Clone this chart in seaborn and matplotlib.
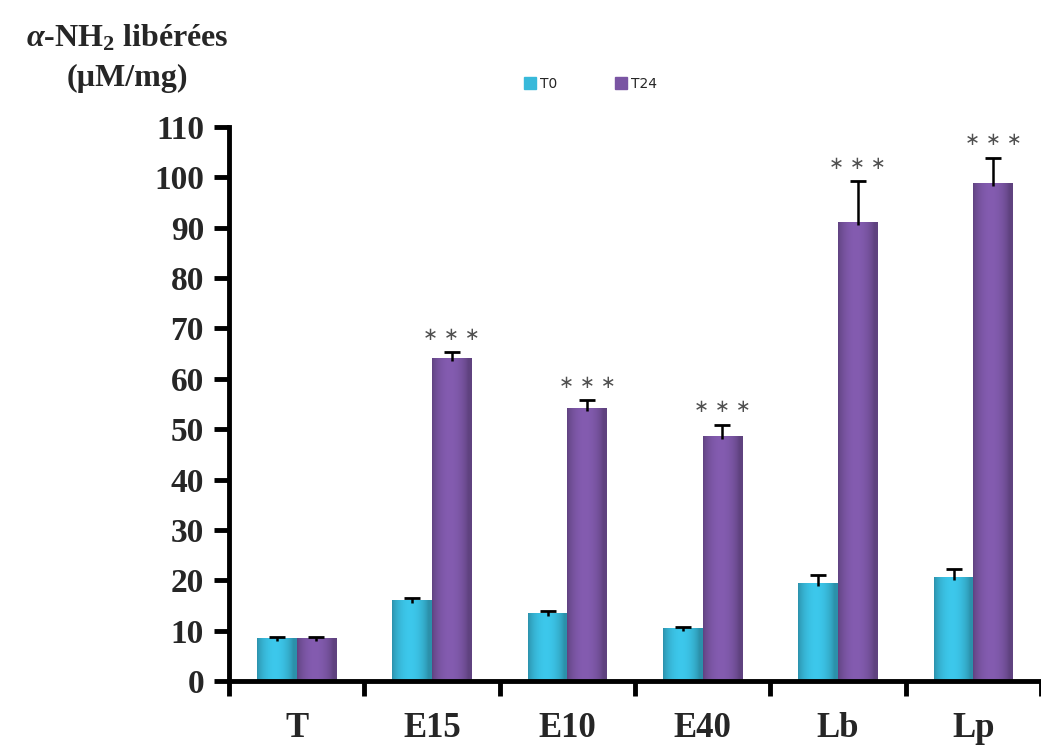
import numpy as np
import pandas as pd
import matplotlib
matplotlib.use("Agg")
import matplotlib.pyplot as plt
import seaborn as sns
from matplotlib.lines import Line2D

categories = ["T", "E15", "E10", "E40", "Lb", "Lp"]
series = ["T0", "T24"]
t0_values = [8.5, 16.1, 13.6, 10.5, 19.5, 20.7]
t24_values = [8.5, 64.2, 54.3, 48.7, 91.2, 98.9]
t0_err = [0.3, 0.3, 0.2, 0.3, 1.5, 1.5]
t24_err = [0.3, 1.1, 1.5, 2.2, 8.0, 5.0]
t24_signif = ["", "***", "***", "***", "***", "***"]
y_ticks = list(range(0, 111, 10))

sns.set_style("ticks")
plt.rcParams['font.family'] = ['Liberation Serif', 'DejaVu Serif']
plt.rcParams['mathtext.fontset'] = 'custom'
plt.rcParams['mathtext.rm'] = 'Liberation Serif:bold'
plt.rcParams['mathtext.it'] = 'Liberation Serif:bold:italic'
plt.rcParams['mathtext.bf'] = 'Liberation Serif:bold'

df = pd.DataFrame({
    "cat": categories * 2,
    "serie": [series[0]] * len(categories) + [series[1]] * len(categories),
    "val": t0_values + t24_values,
})

colors = {"T0": "#38b9da", "T24": "#7a55a3"}

fig = plt.figure(figsize=(10.41, 7.45), dpi=100)
x0 = 229 / 1041
ax = fig.add_axes([x0, 1 - 681 / 745, 1 - x0, (681 - 127) / 745])

sns.barplot(data=df, x="cat", y="val", hue="serie", order=categories,
            hue_order=series, palette=colors, width=0.586, errorbar=None,
            saturation=1, legend=False, ax=ax, linewidth=0)

# gradient shading on bars
def shade(patch, base):
    rgb = np.array(matplotlib.colors.to_rgb(base))
    xs = np.linspace(0, 1, 64)
    f = 0.78 + 0.30 * np.sin(np.pi * np.clip(xs * 1.1, 0, 1)) ** 0.7
    grad = np.clip(rgb[None, :] * f[:, None], 0, 1)
    img = grad[None, :, :]
    bx, by = patch.get_x(), patch.get_y()
    bw, bh = patch.get_width(), patch.get_height()
    im = ax.imshow(img, extent=[bx, bx + bw, by, by + bh], aspect='auto',
                   zorder=patch.get_zorder() + 0.1, interpolation='bicubic')
    im.set_clip_path(patch)

bars = [p for p in ax.patches]
n = len(categories)
for p in bars[:n]:
    shade(p, colors["T0"])
for p in bars[n:2 * n]:
    shade(p, colors["T24"])

# one-sided (upper) error bars
for p_list, vals, errs in [(bars[:n], t0_values, t0_err), (bars[n:2 * n], t24_values, t24_err)]:
    xc = [p.get_x() + p.get_width() / 2 for p in p_list]
    eb = ax.errorbar(xc, vals, yerr=[np.full(n, 0.6), errs], fmt='none', ecolor='black',
                     elinewidth=1.8, capsize=6, capthick=2.0, zorder=5)
    eb[1][0].set_visible(False)

# significance stars
for p, v, e, s in zip(bars[n:2 * n], t24_values, t24_err, t24_signif):
    if s:
        ax.annotate("\u2217 \u2217 \u2217", (p.get_x() + p.get_width() / 2, v + e),
                    xytext=(0, 6), textcoords='offset points', ha='center', va='bottom',
                    fontsize=13, color='#505050', family='DejaVu Sans', zorder=6)

ax.set_xlim(-0.5, -0.5 + (1041 - 229) / 136.5)
ax.set_ylim(0, 110)
ax.set_yticks(y_ticks)
ax.set_yticklabels([str(t) for t in y_ticks], fontsize=24, fontweight='bold')
ax.set_xticks(range(n))
ax.set_xticklabels(categories, fontsize=25, fontweight='bold')
ax.set_xticks([i - 0.5 for i in range(n + 1)], minor=True)
ax.tick_params(axis='x', which='major', bottom=True, length=0, pad=22)
ax.tick_params(axis='x', which='minor', bottom=True, length=11, width=3.5, direction='out', color='black')
ax.tick_params(axis='y', which='major', left=True, length=11, width=3.5, direction='out', pad=7, color='black')
ax.set_xlabel("")
ax.set_ylabel("")
for side in ["top", "right"]:
    ax.spines[side].set_visible(False)
for side in ["left", "bottom"]:
    ax.spines[side].set_linewidth(3.5)
    ax.spines[side].set_color('black')

fig.text(127 / 1041, 1 - 58 / 745, "$\\alpha$-NH$_\\mathregular{2}$ libérées\n(µM/mg)",
         ha='center', va='center', multialignment='center', fontsize=23,
         fontweight='bold', linespacing=1.45)

handles = [Line2D([0], [0], marker='s', linestyle='none', markersize=8,
                  markerfacecolor=colors[s], markeredgecolor=colors[s]) for s in series]
fig.legend(handles, series, loc='center', bbox_to_anchor=(591 / 1041, 1 - 84 / 745),
           ncol=2, frameon=False, prop={'family': 'DejaVu Sans', 'size': 10},
           handletextpad=0.3, columnspacing=4.2, handlelength=0.8)

fig.savefig("out.png", dpi=100)
